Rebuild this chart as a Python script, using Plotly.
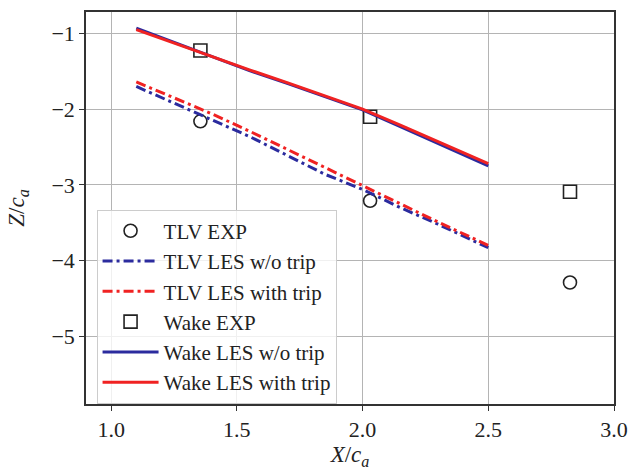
import plotly.graph_objects as go

# ---- data ----
exp_x = [1.355, 2.03, 2.825]
tlv_exp_z = [-2.16, -3.21, -4.29]
wake_exp_z = [-1.225, -2.10, -3.09]

les_x = [1.1, 1.25, 1.4, 1.55, 1.7, 1.85, 2.0, 2.15, 2.3, 2.5]
tlv_les_notrip = [-1.70, -1.92, -2.13, -2.36, -2.61, -2.86, -3.06, -3.30, -3.52, -3.83]
tlv_les_trip = [-1.64, -1.85, -2.06, -2.29, -2.53, -2.78, -3.01, -3.26, -3.49, -3.80]
wake_les_notrip = [-0.93, -1.12, -1.30, -1.49, -1.66, -1.84, -2.01, -2.23, -2.45, -2.75]
wake_les_trip = [-0.95, -1.13, -1.30, -1.48, -1.65, -1.83, -2.00, -2.21, -2.43, -2.72]

x_ticks = [1.0, 1.5, 2.0, 2.5, 3.0]
y_ticks = [-1, -2, -3, -4, -5]

BLUE = "#2b2b9e"
RED = "#f02222"
FONT = "Liberation Serif"
DASHDOT = "10px,4px,3px,4px"

fig = go.Figure()
fig.add_trace(go.Scatter(x=exp_x, y=tlv_exp_z, mode="markers", name="TLV EXP",
                         legendgroup="a",
                         marker=dict(symbol="circle-open", size=13, color="#222",
                                     line=dict(width=1.6, color="#222"))))
fig.add_trace(go.Scatter(x=les_x, y=tlv_les_notrip, mode="lines", name="TLV LES w/o trip",
                         legendgroup="b",
                         line=dict(color=BLUE, width=3, dash=DASHDOT)))
fig.add_trace(go.Scatter(x=les_x, y=tlv_les_trip, mode="lines", name="TLV LES with trip",
                         legendgroup="c",
                         line=dict(color=RED, width=3, dash=DASHDOT)))
fig.add_trace(go.Scatter(x=exp_x, y=wake_exp_z, mode="markers", name="Wake EXP",
                         legendgroup="d",
                         marker=dict(symbol="square-open", size=13, color="#222",
                                     line=dict(width=1.6, color="#222"))))
fig.add_trace(go.Scatter(x=les_x, y=wake_les_notrip, mode="lines", name="Wake LES w/o trip",
                         legendgroup="e",
                         line=dict(color=BLUE, width=3)))
fig.add_trace(go.Scatter(x=les_x, y=wake_les_trip, mode="lines", name="Wake LES with trip",
                         legendgroup="f",
                         line=dict(color=RED, width=3)))

axis_common = dict(
    showgrid=True, gridcolor="#b4b4b4", gridwidth=1,
    showline=True, linecolor="#333", linewidth=1.5, mirror=True,
    ticks="outside", ticklen=5, tickcolor="#333", tickwidth=1.2,
    zeroline=False,
    tickfont=dict(family=FONT, size=22, color="#222"),
)

fig.update_layout(
    width=638, height=470,
    margin=dict(l=86, r=14, t=10, b=59),
    paper_bgcolor="white", plot_bgcolor="white",
    font=dict(family=FONT, size=22, color="#222"),
    xaxis=dict(range=[0.9, 3.0], tickvals=x_ticks, ticktext=[f"{v:.1f}" for v in x_ticks],
               title=dict(text="<i>X</i>/<i>c</i><sub><i>a</i></sub>", standoff=2,
                          font=dict(family=FONT, size=23)),
               **axis_common),
    yaxis=dict(range=[-5.895, -0.716], tickvals=y_ticks,
               ticktext=["\u2212" + str(-v) for v in y_ticks],
               title=dict(text="<i>Z</i>/<i>c</i><sub><i>a</i></sub>", standoff=20,
                          font=dict(family=FONT, size=23)),
               **axis_common),
    legend=dict(x=0.02, y=0.496, xanchor="left", yanchor="top",
                bgcolor="rgba(255,255,255,0.8)", bordercolor="#cccccc", borderwidth=1,
                font=dict(family=FONT, size=21, color="#222"),
                tracegroupgap=0, itemwidth=56),
    showlegend=True,
)

fig.write_html("out.html")
